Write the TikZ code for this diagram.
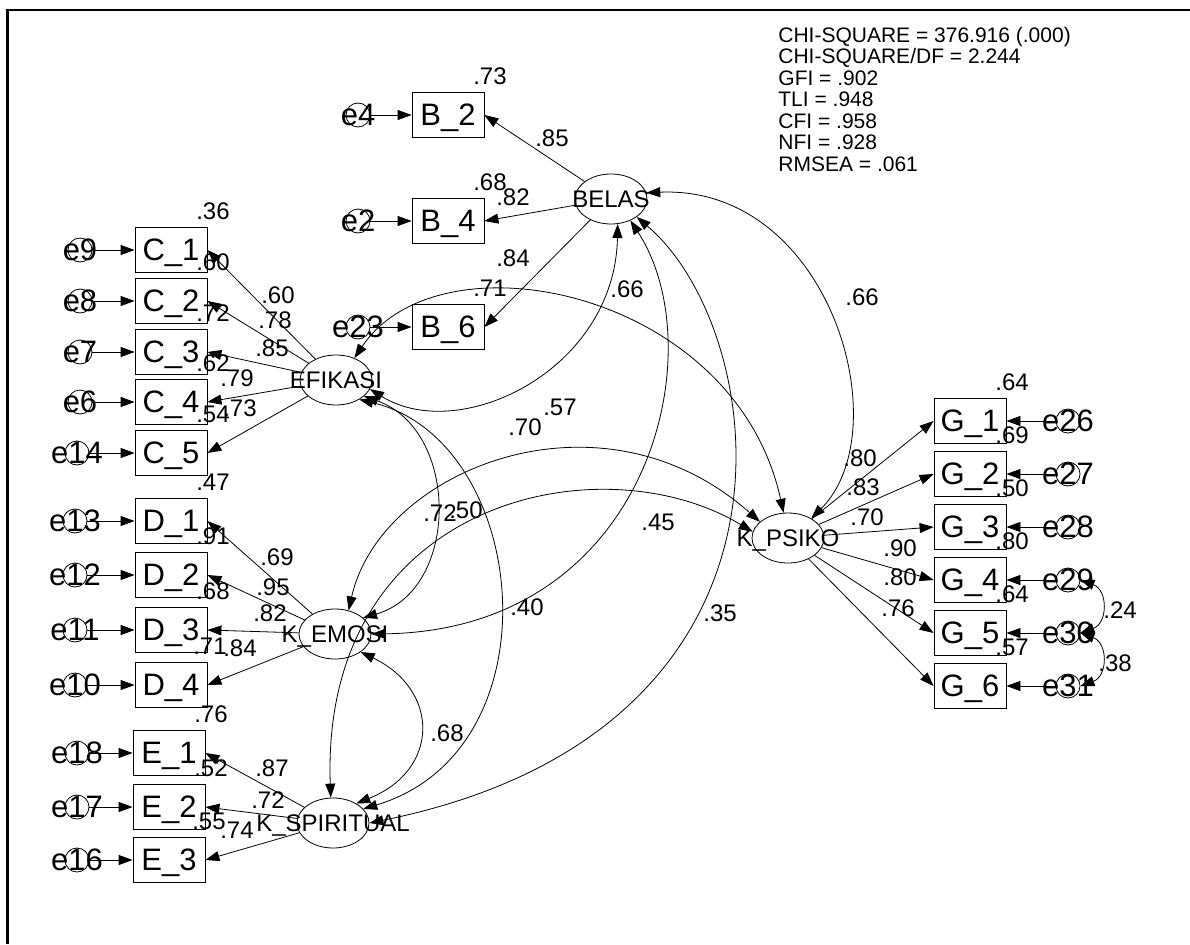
\documentclass[tikz,border=0pt]{standalone}
\usepackage{fontspec}
\setmainfont{Liberation Sans}
\usetikzlibrary{arrows.meta,shapes.geometric}

\begin{document}
\begin{tikzpicture}[x=1pt,y=-1pt,>={Triangle[length=14pt,width=10pt]},line width=0.8pt,
  obs/.style={draw,minimum width=72pt,minimum height=45pt,inner sep=0pt,font=\fontsize{31}{31}\selectfont,text depth=0pt},
  latent/.style={draw,ellipse,minimum width=72pt,minimum height=50pt,inner sep=0pt},
  lvname/.style={font=\fontsize{24}{24}\selectfont,inner sep=0pt,text depth=0pt},
  err/.style={draw,circle,minimum size=24pt,inner sep=0pt},
  ename/.style={font=\fontsize{31}{31}\selectfont,inner sep=0pt,text depth=0pt},
  coef/.style={font=\fontsize{24}{24}\selectfont,inner sep=0pt},
  fitline/.style={font=\fontsize{21}{21}\selectfont,inner sep=0pt,anchor=base west}]
  \useasboundingbox (0,0) rectangle (1190,944);
  \draw[line width=2.4pt] (7.3,944) -- (7.3,10) -- (1190,10);

  % fit indices
  \node[fitline] (chisq) at (778,42.5) {CHI-SQUARE = 376.916 (.000)};
  \node[fitline] (chidf) at (778,64) {CHI-SQUARE/DF = 2.244};
  \node[fitline] (gfi) at (778,85.5) {GFI = .902};
  \node[fitline] (tli) at (778,107) {TLI = .948};
  \node[fitline] (cfi) at (778,128.5) {CFI = .958};
  \node[fitline] (nfi) at (778,150) {NFI = .928};
  \node[fitline] (rmsea) at (778,171.5) {RMSEA = .061};

  % latent variables
  \node[latent,label={[lvname]center:BELAS}] (BELAS) at (611,199) {};
  \node[latent,label={[lvname]center:EFIKASI}] (EFIKASI) at (336,380) {};
  \node[latent,label={[lvname]center:K\_EMOSI}] (KEMOSI) at (335,634) {};
  \node[latent,label={[lvname]center:K\_SPIRITUAL}] (KSPIR) at (333,823) {};
  \node[latent,label={[lvname]center:K\_PSIKO}] (KPSIKO) at (788,538) {};

  % BELAS
  \node[obs] (B2) at (448,115) {B\_2};
  \node[obs] (B4) at (448,221) {B\_4};
  \node[obs] (B6) at (448,327) {B\_6};
  \node[err,label={[ename]center:e4}] (e4) at (358,115) {};
  \node[err,label={[ename]center:e2}] (e2) at (358,221) {};
  \node[err,label={[ename]center:e23}] (e23) at (358,327) {};
  \draw[->] (e4) -- (B2);
  \draw[->] (e2) -- (B4);
  \draw[->] (e23) -- (B6);
  \draw[->] (BELAS) -- (B2.east);
  \draw[->] (BELAS) -- (B4.east);
  \draw[->] (BELAS) -- (B6.east);
  \node[coef] (r2B2) at (490,76.5) {.73};
  \node[coef] (r2B4) at (490,182.5) {.68};
  \node[coef] (r2B6) at (490,288.5) {.71};
  \node[coef] (lB2) at (552,138) {.85};
  \node[coef] (lB4) at (513,197) {.82};
  \node[coef] (lB6) at (513,258) {.84};

  % EFIKASI
  \node[obs] (C1) at (171,250) {C\_1};
  \node[obs] (C2) at (171,301) {C\_2};
  \node[obs] (C3) at (171,352) {C\_3};
  \node[obs] (C4) at (171,402) {C\_4};
  \node[obs] (C5) at (171,453) {C\_5};
  \node[err,label={[ename]center:e9}] (e9) at (80,250) {};
  \node[err,label={[ename]center:e8}] (e8) at (80,301) {};
  \node[err,label={[ename]center:e7}] (e7) at (80,352) {};
  \node[err,label={[ename]center:e6}] (e6) at (80,402) {};
  \node[err,label={[ename]center:e14}] (e14) at (77,453) {};
  \draw[->] (e9) -- (C1);
  \draw[->] (e8) -- (C2);
  \draw[->] (e7) -- (C3);
  \draw[->] (e6) -- (C4);
  \draw[->] (e14) -- (C5);
  \draw[->] (EFIKASI) -- (C1.east);
  \draw[->] (EFIKASI) -- (C2.east);
  \draw[->] (EFIKASI) -- (C3.east);
  \draw[->] (EFIKASI) -- (C4.east);
  \draw[->] (EFIKASI) -- (C5.east);
  \node[coef] (r2C1) at (213,211.5) {.36};
  \node[coef] (r2C2) at (213,262.5) {.60};
  \node[coef] (r2C3) at (213,313.5) {.72};
  \node[coef] (r2C4) at (213,363.5) {.62};
  \node[coef] (r2C5) at (213,414.5) {.54};
  \node[coef] (lC1) at (278,295) {.60};
  \node[coef] (lC2) at (275,320) {.78};
  \node[coef] (lC3) at (272,348) {.85};
  \node[coef] (lC4) at (237,378) {.79};
  \node[coef] (lC5) at (240,408) {.73};

  % K_EMOSI
  \node[obs] (D1) at (171,521) {D\_1};
  \node[obs] (D2) at (171,575) {D\_2};
  \node[obs] (D3) at (171,630) {D\_3};
  \node[obs] (D4) at (171,685) {D\_4};
  \node[err,label={[ename]center:e13}] (e13) at (75,521) {};
  \node[err,label={[ename]center:e12}] (e12) at (75,575) {};
  \node[err,label={[ename]center:e11}] (e11) at (75,630) {};
  \node[err,label={[ename]center:e10}] (e10) at (75,685) {};
  \draw[->] (e13) -- (D1);
  \draw[->] (e12) -- (D2);
  \draw[->] (e11) -- (D3);
  \draw[->] (e10) -- (D4);
  \draw[->] (KEMOSI) -- (D1.east);
  \draw[->] (KEMOSI) -- (D2.east);
  \draw[->] (KEMOSI) -- (D3.east);
  \draw[->] (KEMOSI) -- (D4.east);
  \node[coef] (r2D1) at (213,482.5) {.47};
  \node[coef] (r2D2) at (213,536.5) {.91};
  \node[coef] (r2D3) at (213,591.5) {.68};
  \node[coef] (r2D4) at (210,646.5) {.71};
  \node[coef] (lD1) at (277,557) {.69};
  \node[coef] (lD2) at (273,587) {.95};
  \node[coef] (lD3) at (270,613) {.82};
  \node[coef] (lD4) at (240,648) {.84};

  % K_SPIRITUAL
  \node[obs] (E1) at (169,753) {E\_1};
  \node[obs] (E2) at (169,807) {E\_2};
  \node[obs] (E3) at (169,860) {E\_3};
  \node[err,label={[ename]center:e18}] (e18) at (77,753) {};
  \node[err,label={[ename]center:e17}] (e17) at (77,807) {};
  \node[err,label={[ename]center:e16}] (e16) at (77,860) {};
  \draw[->] (e18) -- (E1);
  \draw[->] (e17) -- (E2);
  \draw[->] (e16) -- (E3);
  \draw[->] (KSPIR) -- (E1.east);
  \draw[->] (KSPIR) -- (E2.east);
  \draw[->] (KSPIR) -- (E3.east);
  \node[coef] (r2E1) at (211,714.5) {.76};
  \node[coef] (r2E2) at (211,768.5) {.52};
  \node[coef] (r2E3) at (209,821.5) {.55};
  \node[coef] (lE1) at (272,768) {.87};
  \node[coef] (lE2) at (268,800) {.72};
  \node[coef] (lE3) at (237,830) {.74};

  % K_PSIKO
  \node[obs] (G1) at (970,421) {G\_1};
  \node[obs] (G2) at (970,474) {G\_2};
  \node[obs] (G3) at (970,527) {G\_3};
  \node[obs] (G4) at (970,580) {G\_4};
  \node[obs] (G5) at (970,633) {G\_5};
  \node[obs] (G6) at (970,686) {G\_6};
  \node[err,label={[ename]center:e26}] (e26) at (1068,421) {};
  \node[err,label={[ename]center:e27}] (e27) at (1068,474) {};
  \node[err,label={[ename]center:e28}] (e28) at (1068,527) {};
  \node[err,label={[ename]center:e29}] (e29) at (1068,580) {};
  \node[err,label={[ename]center:e30}] (e30) at (1068,633) {};
  \node[err,label={[ename]center:e31}] (e31) at (1068,686) {};
  \draw[->] (e26) -- (G1);
  \draw[->] (e27) -- (G2);
  \draw[->] (e28) -- (G3);
  \draw[->] (e29) -- (G4);
  \draw[->] (e30) -- (G5);
  \draw[->] (e31) -- (G6);
  \draw[->] (KPSIKO) -- (G1.west);
  \draw[->] (KPSIKO) -- (G2.west);
  \draw[->] (KPSIKO) -- (G3.west);
  \draw[->] (KPSIKO) -- (G4.west);
  \draw[->] (KPSIKO) -- (G5.west);
  \draw[->] (KPSIKO) -- (G6.west);
  \node[coef] (r2G1) at (1012,382.5) {.64};
  \node[coef] (r2G2) at (1012,435.5) {.69};
  \node[coef] (r2G3) at (1012,488.5) {.50};
  \node[coef] (r2G4) at (1012,541.5) {.80};
  \node[coef] (r2G5) at (1012,594.5) {.64};
  \node[coef] (r2G6) at (1012,647.5) {.57};
  \node[coef] (lG1) at (860,458) {.80};
  \node[coef] (lG2) at (863,487) {.83};
  \node[coef] (lG3) at (867,517) {.70};
  \node[coef] (lG4) at (900,548) {.90};
  \node[coef] (lG5) at (900,577) {.80};
  \node[coef] (lG6) at (898,608) {.76};
  \draw[<->] (e29.east) .. controls (1108,590) and (1108,623) .. (e30.east);
  \draw[<->] (e30.east) .. controls (1108,643) and (1108,676) .. (e31.east);
  \node[coef] (c2930) at (1120,610) {.24};
  \node[coef] (c3031) at (1115,663) {.38};

  % covariances
  \draw[<->] (BELAS.-75) .. controls (615,370) and (460,445) .. (EFIKASI.-15);
  \draw[<->] (BELAS.10) .. controls (830,185) and (900,430) .. (KPSIKO.40);
  \draw[<->] (EFIKASI.50) .. controls (440,230) and (735,290) .. (KPSIKO.100);
  \draw[<->] (BELAS.-48) .. controls (715,350) and (650,630) .. (KEMOSI.0);
  \draw[<->] (BELAS.-35) .. controls (770,330) and (830,730) .. (KSPIR.0);
  \draw[<->] (EFIKASI.-30) .. controls (460,430) and (460,590) .. (KEMOSI.30);
  \draw[<->] (EFIKASI.-40) .. controls (530,440) and (560,750) .. (KSPIR.25);
  \draw[<->] (KPSIKO.150) .. controls (600,380) and (380,470) .. (KEMOSI.60);
  \draw[<->] (KPSIKO.170) .. controls (600,440) and (320,500) .. (KSPIR.95);
  \draw[<->] (KEMOSI.-35) .. controls (440,690) and (440,770) .. (KSPIR.40);
  \node[coef] (cBE) at (627,289) {.66};
  \node[coef] (cBP) at (862,297) {.66};
  \node[coef] (cEP) at (560,407) {.57};
  \node[coef] (cMP) at (525,427) {.70};
  \node[coef] (cEM) at (440,513) {.72};
  \node[coef] (cSP) at (466,510) {.50};
  \node[coef] (cBM) at (658,522) {.45};
  \node[coef] (cES) at (527,607) {.40};
  \node[coef] (cBS) at (720,613) {.35};
  \node[coef] (cMS) at (447,733) {.68};
\end{tikzpicture}
\end{document}
